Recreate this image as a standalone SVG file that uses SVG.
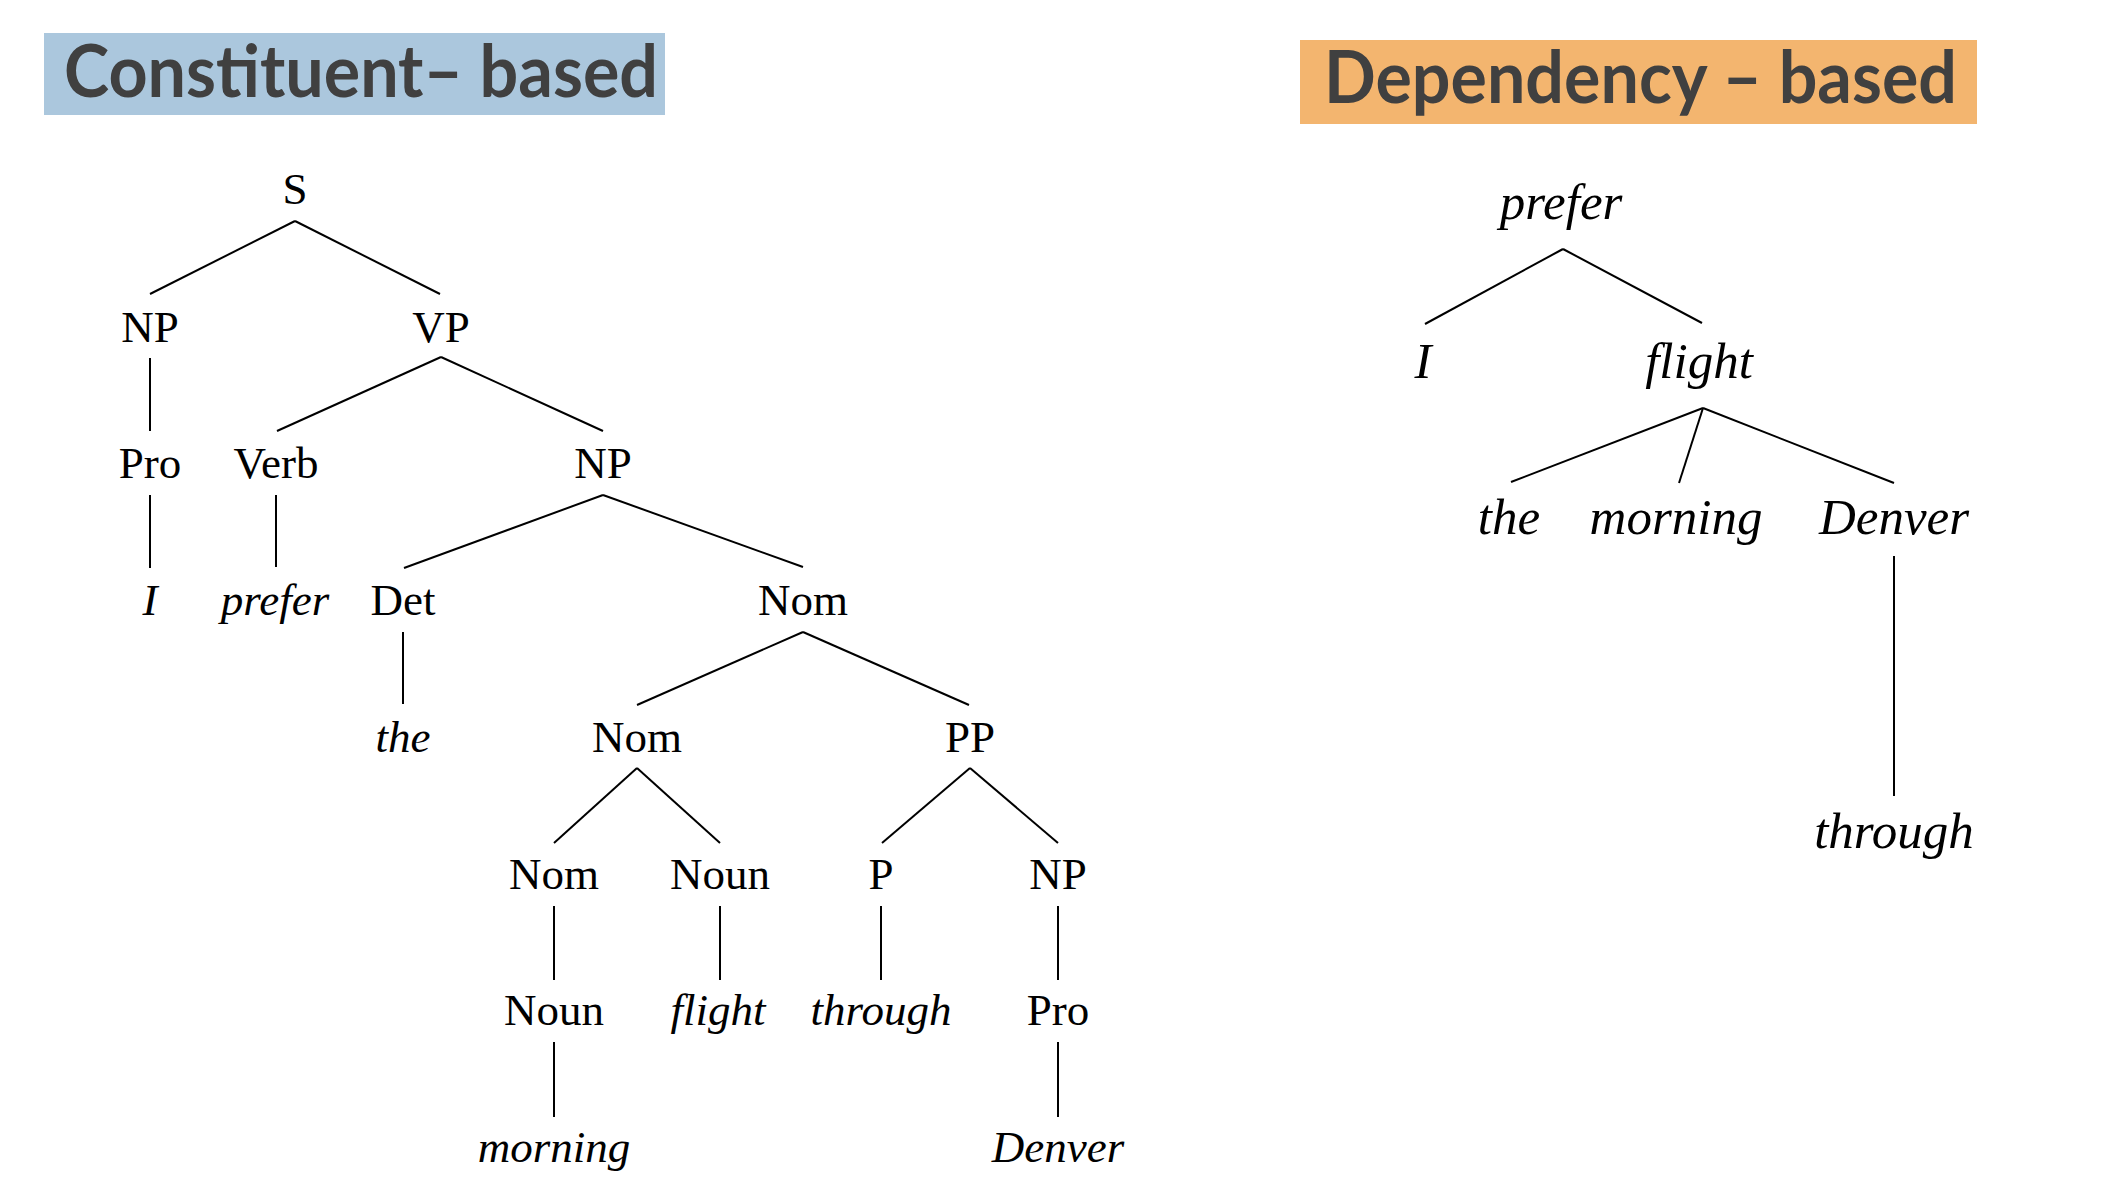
<svg xmlns="http://www.w3.org/2000/svg" width="2105" height="1201" viewBox="0 0 2105 1201">
<style>
.title{font-family:Lato,"Open Sans","Liberation Sans",sans-serif;font-weight:bold;font-size:72px;fill:#404040}
.cat{font-family:"Liberation Serif",serif;font-size:45px;fill:#000;text-anchor:middle}
.word{font-family:"Liberation Serif",serif;font-style:italic;font-size:45px;fill:#000;text-anchor:middle}
.dword{font-family:"Liberation Serif",serif;font-style:italic;font-size:51px;fill:#000;text-anchor:middle}
.edges line{stroke:#000;stroke-width:2;stroke-linecap:butt}
</style>
<rect width="2105" height="1201" fill="#fff"/>
<g id="title-constituent">
<rect x="44" y="33" width="621" height="82" fill="#abc7dd"/>
<text class="title" x="64" y="97" textLength="594" lengthAdjust="spacingAndGlyphs">Constituent– based</text>
</g>
<g id="title-dependency">
<rect x="1300" y="40" width="677" height="84" fill="#f3b56f"/>
<text class="title" x="1324" y="103" textLength="633" lengthAdjust="spacingAndGlyphs">Dependency – based</text>
</g>
<g class="edges" id="connectors">
<!-- constituent tree -->
<line x1="295" y1="221" x2="150" y2="294"/>
<line x1="295" y1="221" x2="440" y2="294"/>
<line x1="150" y1="358" x2="150" y2="431"/>
<line x1="441" y1="357" x2="277" y2="431"/>
<line x1="441" y1="357" x2="603" y2="431"/>
<line x1="150" y1="495" x2="150" y2="568"/>
<line x1="276" y1="495" x2="276" y2="567"/>
<line x1="603" y1="495" x2="404" y2="568"/>
<line x1="603" y1="495" x2="803" y2="567"/>
<line x1="403" y1="632" x2="403" y2="704"/>
<line x1="803" y1="632" x2="637" y2="705"/>
<line x1="803" y1="632" x2="969" y2="705"/>
<line x1="637" y1="768" x2="554" y2="843"/>
<line x1="637" y1="768" x2="720" y2="843"/>
<line x1="970" y1="768" x2="882" y2="843"/>
<line x1="970" y1="768" x2="1058" y2="843"/>
<line x1="554" y1="906" x2="554" y2="980"/>
<line x1="720" y1="906" x2="720" y2="980"/>
<line x1="881" y1="906" x2="881" y2="980"/>
<line x1="1058" y1="906" x2="1058" y2="980"/>
<line x1="554" y1="1042" x2="554" y2="1117"/>
<line x1="1058" y1="1042" x2="1058" y2="1117"/>
<!-- dependency tree -->
<line x1="1563" y1="249" x2="1425" y2="324"/>
<line x1="1563" y1="249" x2="1702" y2="323"/>
<line x1="1703" y1="408" x2="1511" y2="482"/>
<line x1="1703" y1="408" x2="1679" y2="483"/>
<line x1="1703" y1="408" x2="1894" y2="483"/>
<line x1="1894" y1="556" x2="1894" y2="796"/>
</g>
<g id="c-S"><text class="cat" x="295" y="204">S</text></g>
<g id="c-NP1"><text class="cat" x="150" y="342">NP</text></g>
<g id="c-VP"><text class="cat" x="441" y="342">VP</text></g>
<g id="c-Pro1"><text class="cat" x="150" y="478">Pro</text></g>
<g id="c-Verb"><text class="cat" x="276" y="478">Verb</text></g>
<g id="c-NP2"><text class="cat" x="603" y="478">NP</text></g>
<g id="c-I"><text class="word" x="150" y="615">I</text></g>
<g id="c-prefer"><text class="word" x="275" y="615">prefer</text></g>
<g id="c-Det"><text class="cat" x="403" y="615">Det</text></g>
<g id="c-Nom1"><text class="cat" x="803" y="615">Nom</text></g>
<g id="c-the"><text class="word" x="403" y="752">the</text></g>
<g id="c-Nom2"><text class="cat" x="637" y="752">Nom</text></g>
<g id="c-PP"><text class="cat" x="970" y="752">PP</text></g>
<g id="c-Nom3"><text class="cat" x="554" y="889">Nom</text></g>
<g id="c-Noun1"><text class="cat" x="720" y="889">Noun</text></g>
<g id="c-P"><text class="cat" x="881" y="889">P</text></g>
<g id="c-NP3"><text class="cat" x="1058" y="889">NP</text></g>
<g id="c-Noun2"><text class="cat" x="554" y="1025">Noun</text></g>
<g id="c-flight"><text class="word" x="718" y="1025">flight</text></g>
<g id="c-through"><text class="word" x="881" y="1025">through</text></g>
<g id="c-Pro2"><text class="cat" x="1058" y="1025">Pro</text></g>
<g id="c-morning"><text class="word" x="554" y="1162">morning</text></g>
<g id="c-Denver"><text class="word" x="1058" y="1162">Denver</text></g>
<g id="d-prefer"><text class="dword" x="1561" y="219">prefer</text></g>
<g id="d-I"><text class="dword" x="1423" y="378">I</text></g>
<g id="d-flight"><text class="dword" x="1699" y="378">flight</text></g>
<g id="d-the"><text class="dword" x="1509" y="534">the</text></g>
<g id="d-morning"><text class="dword" x="1676" y="534">morning</text></g>
<g id="d-Denver"><text class="dword" x="1894" y="534">Denver</text></g>
<g id="d-through"><text class="dword" x="1894" y="848">through</text></g>
</svg>
